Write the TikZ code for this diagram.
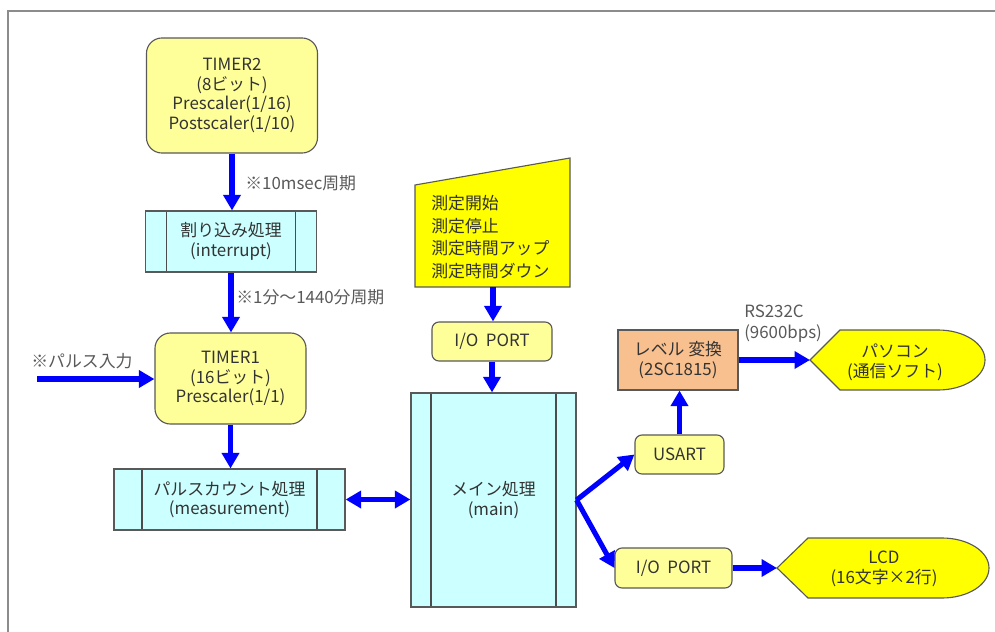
\documentclass[tikz,border=0pt]{standalone}
\usepackage{fontspec}
\setmainfont{Noto Sans CJK JP}
\usepackage{tikz}
\usetikzlibrary{
  arrows.meta
  , calc
  % ------
  , shapes.geometric
}
\definecolor{tmryellow}{HTML}{FFFF99}
\definecolor{proccyan}{HTML}{CCFFFF}
\definecolor{inyellow}{HTML}{FFFF00}
\definecolor{lvorange}{HTML}{F9C08F}

\begin{document}
\begin{tikzpicture}[x=0.025cm, y=-0.025cm,
    every node/.style={font=\fontsize{12}{14}\selectfont, text=black!80, align=center, inner sep=0pt},
    tmr/.style={rounded corners=11pt, draw=black!65, line width=0.8pt, fill=tmryellow},
    port/.style={rounded corners=5pt, draw=black!65, line width=0.8pt, fill=tmryellow},
    subproc/.style={draw=black!65, line width=0.8pt, fill=proccyan,
      path picture={
        \draw [black!70, line width=0.8pt]
          ([xshift=#1]path picture bounding box.north west) -- ([xshift=#1]path picture bounding box.south west)
          ([xshift=-#1]path picture bounding box.north east) -- ([xshift=-#1]path picture bounding box.south east);
      }},
    subproc/.default=0.53cm,
    disp/.style={draw=black!65, line width=0.8pt, fill=inyellow},
    note/.style={text=black!65, align=left},
    flow/.style={draw=blue, line width=3.6pt, -{Triangle[length=11pt, width=12pt]}},
    flowboth/.style={draw=blue, line width=3.6pt, {Triangle[length=11pt, width=12pt]}-{Triangle[length=11pt, width=12pt]}}]

      \useasboundingbox (0,0) rectangle (995,632);
      \draw [black!45, line width=1.2pt] (8,632) -- (8,11) -- (995,11);

      % timers and interrupt
      \node [tmr, minimum width=4.275cm, minimum height=2.875cm] (tm2) at (232,95.5)
        {TIMER2\\(8ビット)\\Prescaler(1/16)\\Postscaler(1/10)};
      \node [subproc, minimum width=4.275cm, minimum height=1.525cm] (intr) at (231,241.5)
        {割り込み処理\\(interrupt)};
      \node [tmr, minimum width=3.775cm, minimum height=2.275cm] (tm1) at (230.5,378.5)
        {TIMER1\\(16ビット)\\Prescaler(1/1)};
      \node [subproc=0.7cm, minimum width=5.775cm, minimum height=1.525cm] (meas) at (229.5,499.5)
        {パルスカウント処理\\(measurement)};

      \draw [flow] (tm2.south) -- (tm2.south |- intr.north);
      \node [note, anchor=west] (lbl10ms) at (245,183) {※10msec周期};
      \draw [flow] (intr.south) -- (intr.south |- tm1.north);
      \node [note, anchor=west] (lblmin) at (236,297) {※1分～1440分周期};
      \coordinate (pulseIn) at (37,379);
      \draw [flow] (pulseIn) -- (pulseIn -| tm1.west);
      \node [note, anchor=west] (lblpulse) at (31,361) {※パルス入力};
      \draw [flow] (tm1.south) -- (tm1.south |- meas.north);

      % switches
      \draw [disp] (415,185) -- (570,158) -- (570,287) -- (415,287) -- cycle;
      \coordinate (inBot) at (493,287);
      \node [align=left, anchor=west, font=\fontsize{12}{16}\selectfont] (inp) at (431,237)
        {測定開始\\測定停止\\測定時間アップ\\測定時間ダウン};

      \node [port, minimum width=3.0cm, minimum height=0.975cm] (io1) at (492,341.5) {I/O\ \ PORT};
      \node [subproc=0.5cm, minimum width=4.125cm, minimum height=5.35cm] (main) at (493.5,500)
        {メイン処理\\(main)};
      \draw [flow] (inBot) -- (inBot |- io1.north);
      \draw [flow] (io1.south) -- (io1.south |- main.north);
      \draw [flowboth] (meas.east) -- (meas.east -| main.west);

      % outputs
      \node [port, minimum width=2.225cm, minimum height=0.975cm] (usart) at (679.5,454.5) {USART};
      \node [draw=black!65, line width=0.8pt, fill=lvorange, minimum width=3.0cm, minimum height=1.5cm] (lvl) at (678,360)
        {レベル 変換\\(2SC1815)};
      \node [port, minimum width=2.925cm, minimum height=1.0cm] (io2) at (673.5,568) {I/O\ \ PORT};

      \draw [flow] (main.east) -- (usart.west);
      \draw [flow] (main.east) -- (io2.west);
      \draw [flow] (usart.north) -- (usart.north |- lvl.south);

      \coordinate (pcTip) at (810,360);
      \draw [disp] (pcTip) -- (840,330) -- (938,330) .. controls (964,330) and (985,343.4) .. (985,360)
        .. controls (985,376.6) and (964,390) .. (938,390) -- (840,390) -- cycle;
      \node (pc) at (895,362) {パソコン\\(通信ソフト)};

      \coordinate (lcdTip) at (777,568);
      \draw [disp] (lcdTip) -- (808,538) -- (942,538) .. controls (968,538) and (989,551.4) .. (989,568)
        .. controls (989,584.6) and (968,598) .. (942,598) -- (808,598) -- cycle;
      \node (lcd) at (884,569) {LCD\\(16文字×2行)};

      \draw [flow] (lvl.east) -- (pcTip);
      \node [note, anchor=west, font=\fontsize{12}{15}\selectfont] (lblrs) at (744,324) {RS232C\\(9600bps)};
      \draw [flow] (io2.east) -- (lcdTip);

    \end{tikzpicture}
\end{document}
